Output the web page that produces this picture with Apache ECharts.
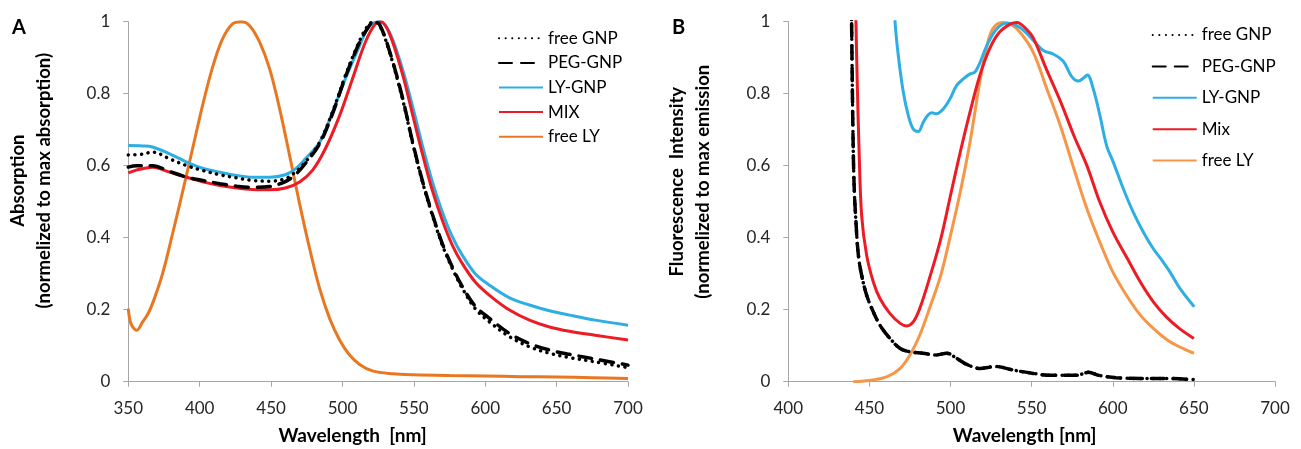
<!DOCTYPE html>
<html>
<head>
<meta charset="utf-8">
<script src="https://cdn.jsdelivr.net/npm/echarts@6/dist/echarts.min.js"></script>
<style>
html,body{margin:0;padding:0;background:#fff;}
#chart{width:1301px;height:449px;}
</style>
</head>
<body>
<div id="chart"></div>
<script>
// ---------- Panel A: absorption ----------
var A_freeGNP_x = [350,360,367,379,391,402,414,426,437,449,460,467,474,484,493,502,512,518,522,526,533,542,549,556,563,570,577,584,593,603,617,631,645,659,677,700];
var A_freeGNP_y = [0.63,0.632,0.638,0.619,0.6,0.587,0.575,0.566,0.559,0.557,0.564,0.582,0.61,0.665,0.749,0.85,0.947,0.99,1.0,0.99,0.915,0.786,0.665,0.555,0.462,0.379,0.314,0.259,0.203,0.166,0.125,0.097,0.079,0.067,0.055,0.039];

var A_pegGNP_x = [350,356,367,379,391,402,414,426,437,449,460,467,474,484,493,502,512,518,522,526,533,542,549,556,563,570,577,584,593,603,617,631,645,659,677,700];
var A_pegGNP_y = [0.596,0.6,0.6,0.584,0.568,0.559,0.55,0.543,0.54,0.542,0.556,0.575,0.606,0.661,0.744,0.846,0.943,0.984,1.0,0.992,0.918,0.79,0.668,0.558,0.465,0.383,0.318,0.264,0.21,0.176,0.134,0.106,0.088,0.076,0.063,0.046];

var A_lyGNP_x = [350,360,367,379,391,402,414,426,437,449,460,467,474,484,493,502,512,519,526,533,542,549,556,563,570,577,584,593,603,617,631,645,659,677,700];
var A_lyGNP_y = [0.656,0.655,0.652,0.633,0.61,0.593,0.582,0.573,0.568,0.568,0.575,0.591,0.619,0.665,0.749,0.841,0.933,0.989,1.0,0.97,0.869,0.767,0.656,0.555,0.471,0.402,0.351,0.3,0.268,0.233,0.213,0.197,0.185,0.171,0.157];

var A_mix_x = [350,358,367,379,391,402,414,426,437,449,460,470,479,488,498,507,516,523,527,533,542,549,556,563,570,577,584,593,603,617,631,645,659,677,700];
var A_mix_y = [0.58,0.59,0.596,0.582,0.568,0.555,0.545,0.538,0.534,0.533,0.538,0.555,0.587,0.647,0.739,0.841,0.943,0.994,1.0,0.966,0.855,0.744,0.633,0.531,0.448,0.379,0.328,0.277,0.24,0.199,0.171,0.152,0.14,0.129,0.116];

var A_freeLY_x = [350,352,356,360,364,368,374,381,388,395,402,409,416,423,429,435,442,449,456,463,470,477,484,491,498,505,512,521,535,550,575,600,625,650,675,700];
var A_freeLY_y = [0.203,0.16,0.143,0.166,0.19,0.228,0.3,0.411,0.527,0.647,0.767,0.873,0.952,0.994,1.0,0.989,0.943,0.869,0.758,0.628,0.494,0.37,0.259,0.176,0.116,0.074,0.048,0.03,0.022,0.019,0.017,0.016,0.014,0.013,0.011,0.009];

// ---------- Panel B: fluorescence ----------
var B_freeGNP_x = [438,439,439.7,440.5,441.7,443.2,445.2,448.3,452.4,456.5,462.7,469,475,483,491,497.6,503.8,510,518,528,539,551,561,578,585,592,602,617,633,650];
var B_freeGNP_y = [1.3,1.0,0.74,0.555,0.444,0.351,0.296,0.24,0.194,0.157,0.12,0.092,0.083,0.079,0.074,0.079,0.065,0.048,0.037,0.042,0.032,0.023,0.018,0.018,0.026,0.017,0.011,0.009,0.009,0.006];

var B_pegGNP_x = [438,439,439.7,440.5,441.7,443.2,445.2,448.3,452.4,456.5,462.7,469,475,483,491,497.6,503.8,510,518,528,539,551,561,578,585,592,602,617,633,650];
var B_pegGNP_y = [1.3,1.0,0.74,0.555,0.444,0.351,0.296,0.24,0.194,0.157,0.12,0.092,0.083,0.079,0.074,0.079,0.065,0.048,0.037,0.042,0.032,0.023,0.018,0.018,0.026,0.017,0.011,0.009,0.009,0.006];

var B_lyGNP_x = [465,465.8,467.8,470.9,474,477,480.1,483.2,486,488.4,491.4,495.6,499.7,503.8,507.9,512,515.1,518.2,522.3,528.4,534.6,542.8,551,557.2,563.3,569.5,574.6,578.7,581.8,584.3,588,592.1,596.2,600.3,606.5,612.6,618.8,624.9,631,635.2,641.4,650.2];
var B_lyGNP_y = [1.1,1.0,0.906,0.804,0.739,0.702,0.695,0.721,0.74,0.747,0.744,0.758,0.786,0.823,0.841,0.855,0.86,0.887,0.933,0.98,0.996,0.984,0.948,0.92,0.91,0.89,0.848,0.835,0.843,0.852,0.813,0.739,0.656,0.61,0.536,0.471,0.416,0.37,0.333,0.305,0.259,0.208];

var B_mix_x = [440.5,441.7,442.5,443.6,445.2,448.3,452.4,456.5,462.7,469,473,477,481,487,494,500,506,512,518,524,530,537,541,547,551,559,568,576,584,592,600,609,617,625,633,641,650];
var B_mix_y = [1.3,1.0,0.83,0.647,0.462,0.351,0.277,0.231,0.189,0.162,0.155,0.166,0.203,0.287,0.397,0.518,0.638,0.749,0.85,0.924,0.97,0.994,0.998,0.978,0.955,0.869,0.776,0.684,0.601,0.499,0.416,0.342,0.277,0.222,0.18,0.148,0.12];

var B_freeLY_x = [440,452,461,469,475,481,487,494,500,506,512,518,522,526,532,537,543,551,559,568,576,584,592,600,609,617,625,633,641,650];
var B_freeLY_y = [0.0,0.005,0.014,0.037,0.074,0.129,0.203,0.296,0.407,0.527,0.665,0.832,0.924,0.98,0.998,0.994,0.97,0.915,0.818,0.707,0.592,0.481,0.388,0.305,0.236,0.185,0.148,0.118,0.097,0.079];

var xTicksA = [350,400,450,500,550,600,650,700];
var xTicksB = [400,450,500,550,600,650,700];
var yTicks = [0,0.2,0.4,0.6,0.8,1];

function pairs(xs, ys){ return xs.map(function(x,i){ return [x, ys[i]]; }); }

var FONT = 'Lato';
var AXIS_GRAY = '#A6A6A6';
var LABEL_COLOR = '#262626';
var BLUE = '#2EAEE3', RED = '#ED1C24', ORANGE_A = '#E87722', ORANGE_B = '#F79646';

function xAxisDef(idx, ticks, name, padRight){
  return {
    type:'value', gridIndex: idx, min:ticks[0], max:ticks[ticks.length-1], interval:ticks[1]-ticks[0],
    axisLine:{show:true, lineStyle:{color:AXIS_GRAY, width:1}},
    axisTick:{show:true, length:5, lineStyle:{color:AXIS_GRAY}},
    splitLine:{show:false},
    axisLabel:{fontFamily:FONT, fontSize:17, color:LABEL_COLOR, margin:18},
    name:name, nameLocation:'middle', nameGap:45,
    nameTextStyle:{fontFamily:FONT, fontWeight:'bold', fontSize:19, color:'#000', padding:[0,padRight,0,0]}
  };
}
function yAxisDef(idx, name, gap, padLeft){
  return {
    type:'value', gridIndex: idx, min:yTicks[0], max:yTicks[yTicks.length-1], interval:yTicks[1]-yTicks[0],
    axisLine:{show:true, lineStyle:{color:AXIS_GRAY, width:1}},
    axisTick:{show:true, length:5, lineStyle:{color:AXIS_GRAY}},
    splitLine:{show:false},
    axisLabel:{fontFamily:FONT, fontSize:17, color:LABEL_COLOR, margin:18},
    name:name, nameLocation:'middle', nameRotate:90, nameGap:gap, nameMoveOverlap:false,
    nameTextStyle:{fontFamily:FONT, fontWeight:'bold', fontSize:18.5, lineHeight:26, color:'#000', padding:[0,0,0,padLeft], align:'center'}
  };
}
function lineSeries(name, idx, data, color, width, type){
  return {
    name:name, type:'line', xAxisIndex:idx, yAxisIndex:idx, data:data,
    symbol:'none', smooth:0.35, clip:true,
    lineStyle:{color:color, width:width, type:type||'solid', cap: type?'round':'butt'},
    itemStyle:{color:color}, z: 2
  };
}

var DOT = [0.1, 6.5];
var DASH = [13, 9];
var legendCommon = {
  orient:'vertical', itemWidth:44, itemHeight:17, padding:0,
  formatter:function(n){return n.slice(2);},
  itemStyle:{color:'transparent', borderColor:'transparent', borderWidth:0, opacity:0},
  textStyle:{fontFamily:FONT, fontSize:17, color:'#000'}
};

var option = {
  animation:false,
  backgroundColor:'#fff',
  title:[
    {text:'A', left:12, top:18, padding:0, textStyle:{fontFamily:FONT, fontWeight:'bold', fontSize:20, color:'#000'}},
    {text:'B', left:672, top:18, padding:0, textStyle:{fontFamily:FONT, fontWeight:'bold', fontSize:20, color:'#000'}}
  ],
  grid:[
    {left:128.3, right:673, top:21.7, bottom:67.3, containLabel:false, outerBoundsMode:'none'},
    {left:788.3, right:26, top:21.7, bottom:67.3, containLabel:false, outerBoundsMode:'none'}
  ],
  xAxis:[ xAxisDef(0,xTicksA,'Wavelength  [nm]',51), xAxisDef(1,xTicksB,'Wavelength [nm]',14) ],
  yAxis:[ yAxisDef(0,'Absorption\n(normelized to max absorption)',71,42), yAxisDef(1,'Fluorescence  Intensity\n(normelized to max emission',72,40) ],
  legend:[
    Object.assign({}, legendCommon, {left:498, top:29.8, itemGap:7.6,
     data:['A:free GNP','A:PEG-GNP','A:LY-GNP','A:MIX','A:free LY']}),
    Object.assign({}, legendCommon, {left:1151.7, top:26.5, itemGap:14.4,
     data:['B:free GNP','B:PEG-GNP','B:LY-GNP','B:Mix','B:free LY']})
  ],
  series:[
    lineSeries('A:free LY',0,pairs(A_freeLY_x,A_freeLY_y),ORANGE_A,3),
    lineSeries('A:LY-GNP',0,pairs(A_lyGNP_x,A_lyGNP_y),BLUE,3),
    lineSeries('A:MIX',0,pairs(A_mix_x,A_mix_y),RED,3),
    lineSeries('A:PEG-GNP',0,pairs(A_pegGNP_x,A_pegGNP_y),'#000',3.5,DASH),
    lineSeries('A:free GNP',0,pairs(A_freeGNP_x,A_freeGNP_y),'#000',3.5,DOT),
    lineSeries('B:free LY',1,pairs(B_freeLY_x,B_freeLY_y),ORANGE_B,3),
    lineSeries('B:LY-GNP',1,pairs(B_lyGNP_x,B_lyGNP_y),BLUE,3),
    lineSeries('B:Mix',1,pairs(B_mix_x,B_mix_y),RED,3),
    lineSeries('B:PEG-GNP',1,pairs(B_pegGNP_x,B_pegGNP_y),'#000',3.5,DASH),
    lineSeries('B:free GNP',1,pairs(B_freeGNP_x,B_freeGNP_y),'#000',3.5,DOT)
  ]
};

var chart = echarts.init(document.getElementById('chart'), null, {renderer:'canvas'});
chart.setOption(option);
</script>
</body>
</html>
